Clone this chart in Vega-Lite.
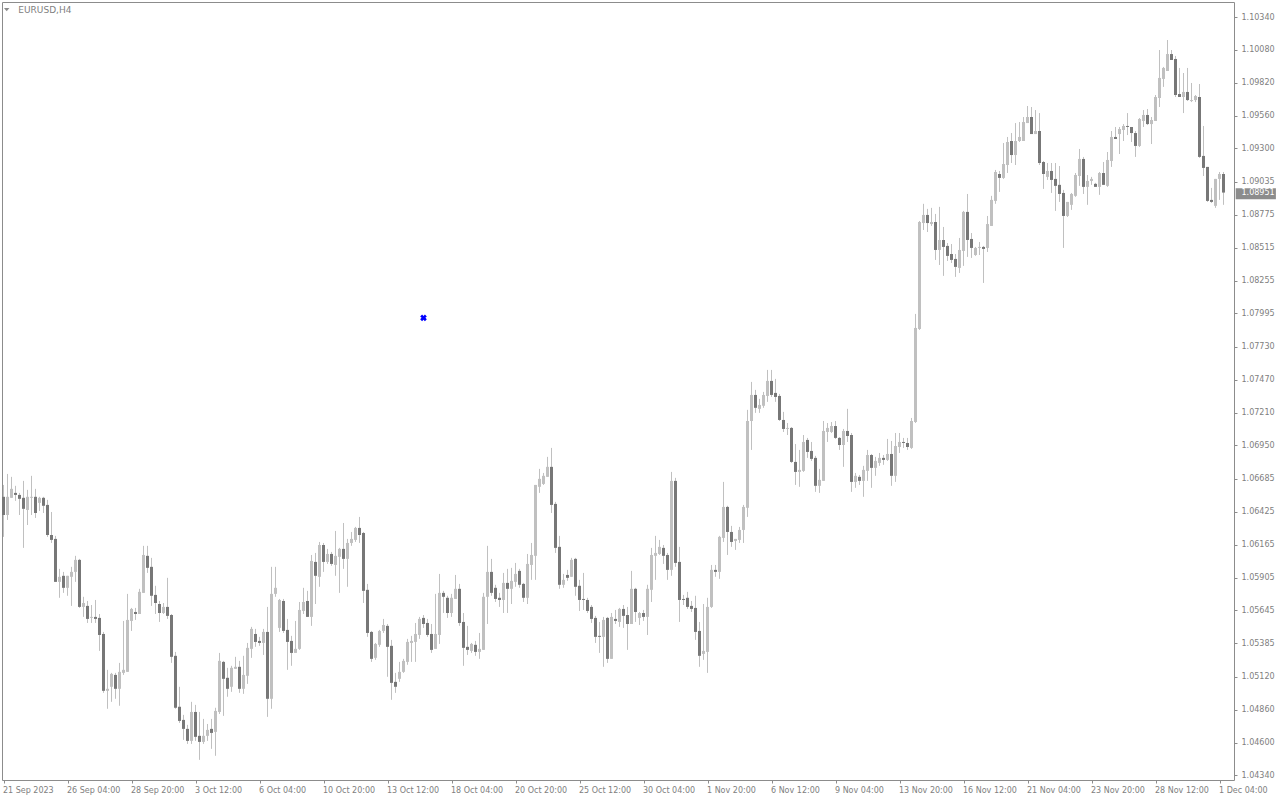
{
"$schema":"https://vega.github.io/schema/vega-lite/v6.json",
"width":1232,"height":778,
"autosize":{"type":"none"},
"padding":{"left":2,"top":2,"right":46,"bottom":20},
"background":"white",
"config":{"view":{"stroke":"#8c8c8c","strokeWidth":1},"font":"DejaVu Sans","axis":{"labelOverlap":false,"labelFlush":false,"labelBound":false},"scale":{"continuousPadding":0}},
"datasets":{"candles":[
{"i":0,"o":1.06544,"h":1.06638,"l":1.06227,"c":1.06400},
{"i":1,"o":1.06400,"h":1.06725,"l":1.06361,"c":1.06544},
{"i":2,"o":1.06536,"h":1.06702,"l":1.06536,"c":1.06607},
{"i":3,"o":1.06575,"h":1.06631,"l":1.06512,"c":1.06559},
{"i":4,"o":1.06559,"h":1.06575,"l":1.06400,"c":1.06528},
{"i":5,"o":1.06536,"h":1.06670,"l":1.06140,"c":1.06449},
{"i":6,"o":1.06440,"h":1.06599,"l":1.06321,"c":1.06544},
{"i":7,"o":1.06536,"h":1.06710,"l":1.06400,"c":1.06544},
{"i":8,"o":1.06544,"h":1.06607,"l":1.06377,"c":1.06416},
{"i":9,"o":1.06496,"h":1.06544,"l":1.06432,"c":1.06536},
{"i":10,"o":1.06536,"h":1.06544,"l":1.06416,"c":1.06473},
{"i":11,"o":1.06480,"h":1.06520,"l":1.06227,"c":1.06242},
{"i":12,"o":1.06242,"h":1.06424,"l":1.06179,"c":1.06203},
{"i":13,"o":1.06211,"h":1.06235,"l":1.05871,"c":1.05871},
{"i":14,"o":1.05871,"h":1.05974,"l":1.05745,"c":1.05911},
{"i":15,"o":1.05919,"h":1.05950,"l":1.05784,"c":1.05824},
{"i":16,"o":1.05824,"h":1.05919,"l":1.05761,"c":1.05919},
{"i":17,"o":1.05911,"h":1.05990,"l":1.05681,"c":1.05950},
{"i":18,"o":1.05950,"h":1.06077,"l":1.05871,"c":1.06045},
{"i":19,"o":1.06045,"h":1.06053,"l":1.05665,"c":1.05673},
{"i":20,"o":1.05673,"h":1.05753,"l":1.05594,"c":1.05704},
{"i":21,"o":1.05681,"h":1.05720,"l":1.05546,"c":1.05578},
{"i":22,"o":1.05586,"h":1.05688,"l":1.05546,"c":1.05594},
{"i":23,"o":1.05594,"h":1.05728,"l":1.05546,"c":1.05578},
{"i":24,"o":1.05586,"h":1.05617,"l":1.05325,"c":1.05451},
{"i":25,"o":1.05459,"h":1.05475,"l":1.04993,"c":1.05009},
{"i":26,"o":1.05009,"h":1.05175,"l":1.04867,"c":1.05025},
{"i":27,"o":1.05041,"h":1.05151,"l":1.04922,"c":1.05143},
{"i":28,"o":1.05135,"h":1.05151,"l":1.04946,"c":1.05025},
{"i":29,"o":1.05025,"h":1.05230,"l":1.04891,"c":1.05159},
{"i":30,"o":1.05151,"h":1.05562,"l":1.05135,"c":1.05175},
{"i":31,"o":1.05159,"h":1.05776,"l":1.05159,"c":1.05570},
{"i":32,"o":1.05562,"h":1.05665,"l":1.05483,"c":1.05657},
{"i":33,"o":1.05633,"h":1.05665,"l":1.05570,"c":1.05617},
{"i":34,"o":1.05617,"h":1.05816,"l":1.05617,"c":1.05792},
{"i":35,"o":1.05784,"h":1.06156,"l":1.05784,"c":1.06084},
{"i":36,"o":1.06077,"h":1.06156,"l":1.05942,"c":1.05982},
{"i":37,"o":1.05990,"h":1.06061,"l":1.05681,"c":1.05761},
{"i":38,"o":1.05768,"h":1.05840,"l":1.05617,"c":1.05704},
{"i":39,"o":1.05696,"h":1.05720,"l":1.05554,"c":1.05625},
{"i":40,"o":1.05625,"h":1.05704,"l":1.05617,"c":1.05673},
{"i":41,"o":1.05673,"h":1.05903,"l":1.05578,"c":1.05602},
{"i":42,"o":1.05609,"h":1.05617,"l":1.05230,"c":1.05278},
{"i":43,"o":1.05286,"h":1.05317,"l":1.04867,"c":1.04875},
{"i":44,"o":1.04883,"h":1.05041,"l":1.04755,"c":1.04771},
{"i":45,"o":1.04779,"h":1.04819,"l":1.04621,"c":1.04708},
{"i":46,"o":1.04708,"h":1.04740,"l":1.04589,"c":1.04613},
{"i":47,"o":1.04613,"h":1.04922,"l":1.04589,"c":1.04842},
{"i":48,"o":1.04842,"h":1.04898,"l":1.04613,"c":1.04645},
{"i":49,"o":1.04653,"h":1.04842,"l":1.04463,"c":1.04605},
{"i":50,"o":1.04605,"h":1.04787,"l":1.04589,"c":1.04653},
{"i":51,"o":1.04653,"h":1.04747,"l":1.04613,"c":1.04700},
{"i":52,"o":1.04708,"h":1.04787,"l":1.04550,"c":1.04676},
{"i":53,"o":1.04684,"h":1.04875,"l":1.04495,"c":1.04850},
{"i":54,"o":1.04842,"h":1.05309,"l":1.04826,"c":1.05246},
{"i":55,"o":1.05238,"h":1.05246,"l":1.04811,"c":1.05104},
{"i":56,"o":1.05112,"h":1.05191,"l":1.04962,"c":1.05025},
{"i":57,"o":1.05041,"h":1.05207,"l":1.05001,"c":1.05191},
{"i":58,"o":1.05183,"h":1.05278,"l":1.05183,"c":1.05199},
{"i":59,"o":1.05199,"h":1.05246,"l":1.04993,"c":1.05025},
{"i":60,"o":1.05025,"h":1.05286,"l":1.04985,"c":1.05135},
{"i":61,"o":1.05128,"h":1.05388,"l":1.05064,"c":1.05349},
{"i":62,"o":1.05341,"h":1.05515,"l":1.05270,"c":1.05499},
{"i":63,"o":1.05459,"h":1.05499,"l":1.05357,"c":1.05396},
{"i":64,"o":1.05404,"h":1.05436,"l":1.05365,"c":1.05388},
{"i":65,"o":1.05388,"h":1.05499,"l":1.05293,"c":1.05475},
{"i":66,"o":1.05475,"h":1.05673,"l":1.04803,"c":1.04946},
{"i":67,"o":1.04946,"h":1.05990,"l":1.04867,"c":1.05776},
{"i":68,"o":1.05776,"h":1.05990,"l":1.05753,"c":1.05824},
{"i":69,"o":1.05507,"h":1.05736,"l":1.05475,"c":1.05728},
{"i":70,"o":1.05720,"h":1.05736,"l":1.05467,"c":1.05483},
{"i":71,"o":1.05491,"h":1.05578,"l":1.05175,"c":1.05396},
{"i":72,"o":1.05404,"h":1.05444,"l":1.05207,"c":1.05309},
{"i":73,"o":1.05309,"h":1.05562,"l":1.05309,"c":1.05341},
{"i":74,"o":1.05341,"h":1.05712,"l":1.05333,"c":1.05649},
{"i":75,"o":1.05641,"h":1.05824,"l":1.05617,"c":1.05712},
{"i":76,"o":1.05720,"h":1.05800,"l":1.05594,"c":1.05594},
{"i":77,"o":1.05594,"h":1.06084,"l":1.05523,"c":1.06037},
{"i":78,"o":1.06029,"h":1.06100,"l":1.05696,"c":1.05919},
{"i":79,"o":1.05911,"h":1.06187,"l":1.05832,"c":1.06163},
{"i":80,"o":1.06163,"h":1.06179,"l":1.05950,"c":1.06029},
{"i":81,"o":1.06029,"h":1.06132,"l":1.06013,"c":1.06092},
{"i":82,"o":1.06092,"h":1.06108,"l":1.05998,"c":1.06013},
{"i":83,"o":1.06005,"h":1.06274,"l":1.05919,"c":1.06077},
{"i":84,"o":1.06069,"h":1.06140,"l":1.05784,"c":1.06132},
{"i":85,"o":1.06132,"h":1.06337,"l":1.05974,"c":1.06053},
{"i":86,"o":1.06053,"h":1.06211,"l":1.05832,"c":1.06179},
{"i":87,"o":1.06179,"h":1.06266,"l":1.06156,"c":1.06211},
{"i":88,"o":1.06203,"h":1.06306,"l":1.06187,"c":1.06298},
{"i":89,"o":1.06298,"h":1.06385,"l":1.06179,"c":1.06242},
{"i":90,"o":1.06258,"h":1.06266,"l":1.05704,"c":1.05800},
{"i":91,"o":1.05808,"h":1.05855,"l":1.05436,"c":1.05467},
{"i":92,"o":1.05475,"h":1.05483,"l":1.05238,"c":1.05262},
{"i":93,"o":1.05270,"h":1.05388,"l":1.05254,"c":1.05380},
{"i":94,"o":1.05373,"h":1.05491,"l":1.05357,"c":1.05483},
{"i":95,"o":1.05483,"h":1.05578,"l":1.05467,"c":1.05530},
{"i":96,"o":1.05523,"h":1.05538,"l":1.05120,"c":1.05357},
{"i":97,"o":1.05365,"h":1.05412,"l":1.04938,"c":1.05072},
{"i":98,"o":1.05080,"h":1.05151,"l":1.04993,"c":1.05041},
{"i":99,"o":1.05104,"h":1.05238,"l":1.05080,"c":1.05159},
{"i":100,"o":1.05159,"h":1.05262,"l":1.05151,"c":1.05246},
{"i":101,"o":1.05238,"h":1.05420,"l":1.05215,"c":1.05396},
{"i":102,"o":1.05388,"h":1.05444,"l":1.05238,"c":1.05404},
{"i":103,"o":1.05396,"h":1.05546,"l":1.05238,"c":1.05459},
{"i":104,"o":1.05451,"h":1.05594,"l":1.05420,"c":1.05578},
{"i":105,"o":1.05586,"h":1.05609,"l":1.05507,"c":1.05538},
{"i":106,"o":1.05546,"h":1.05578,"l":1.05436,"c":1.05451},
{"i":107,"o":1.05459,"h":1.05538,"l":1.05309,"c":1.05333},
{"i":108,"o":1.05341,"h":1.05776,"l":1.05341,"c":1.05459},
{"i":109,"o":1.05451,"h":1.05934,"l":1.05380,"c":1.05784},
{"i":110,"o":1.05784,"h":1.05800,"l":1.05625,"c":1.05753},
{"i":111,"o":1.05745,"h":1.05761,"l":1.05586,"c":1.05625},
{"i":112,"o":1.05625,"h":1.05776,"l":1.05594,"c":1.05745},
{"i":113,"o":1.05736,"h":1.05926,"l":1.05736,"c":1.05816},
{"i":114,"o":1.05816,"h":1.05855,"l":1.05523,"c":1.05546},
{"i":115,"o":1.05554,"h":1.05625,"l":1.05207,"c":1.05349},
{"i":116,"o":1.05357,"h":1.05523,"l":1.05293,"c":1.05333},
{"i":117,"o":1.05325,"h":1.05388,"l":1.05309,"c":1.05380},
{"i":118,"o":1.05373,"h":1.05404,"l":1.05286,"c":1.05317},
{"i":119,"o":1.05317,"h":1.05467,"l":1.05262,"c":1.05341},
{"i":120,"o":1.05333,"h":1.05784,"l":1.05333,"c":1.05753},
{"i":121,"o":1.05753,"h":1.06156,"l":1.05538,"c":1.05950},
{"i":122,"o":1.05950,"h":1.06053,"l":1.05761,"c":1.05784},
{"i":123,"o":1.05824,"h":1.05848,"l":1.05712,"c":1.05736},
{"i":124,"o":1.05745,"h":1.05784,"l":1.05673,"c":1.05728},
{"i":125,"o":1.05728,"h":1.05942,"l":1.05625,"c":1.05863},
{"i":126,"o":1.05863,"h":1.05974,"l":1.05625,"c":1.05816},
{"i":127,"o":1.05816,"h":1.05982,"l":1.05696,"c":1.05879},
{"i":128,"o":1.05871,"h":1.06021,"l":1.05832,"c":1.05934},
{"i":129,"o":1.05958,"h":1.05974,"l":1.05824,"c":1.05848},
{"i":130,"o":1.05855,"h":1.05863,"l":1.05712,"c":1.05745},
{"i":131,"o":1.05745,"h":1.06092,"l":1.05696,"c":1.06013},
{"i":132,"o":1.06005,"h":1.06179,"l":1.05887,"c":1.06084},
{"i":133,"o":1.06077,"h":1.06638,"l":1.05887,"c":1.06638},
{"i":134,"o":1.06623,"h":1.06765,"l":1.06575,"c":1.06686},
{"i":135,"o":1.06646,"h":1.06733,"l":1.06638,"c":1.06710},
{"i":136,"o":1.06702,"h":1.06860,"l":1.06702,"c":1.06781},
{"i":137,"o":1.06781,"h":1.06931,"l":1.06416,"c":1.06480},
{"i":138,"o":1.06488,"h":1.06504,"l":1.06100,"c":1.06140},
{"i":139,"o":1.06148,"h":1.06235,"l":1.05816,"c":1.05848},
{"i":140,"o":1.05848,"h":1.05934,"l":1.05824,"c":1.05887},
{"i":141,"o":1.05926,"h":1.05966,"l":1.05879,"c":1.05903},
{"i":142,"o":1.05911,"h":1.06061,"l":1.05911,"c":1.06045},
{"i":143,"o":1.06053,"h":1.06061,"l":1.05761,"c":1.05832},
{"i":144,"o":1.05840,"h":1.05887,"l":1.05641,"c":1.05728},
{"i":145,"o":1.05736,"h":1.05942,"l":1.05649,"c":1.05728},
{"i":146,"o":1.05728,"h":1.05745,"l":1.05625,"c":1.05641},
{"i":147,"o":1.05673,"h":1.05688,"l":1.05546,"c":1.05578},
{"i":148,"o":1.05586,"h":1.05602,"l":1.05388,"c":1.05436},
{"i":149,"o":1.05444,"h":1.05554,"l":1.05309,"c":1.05436},
{"i":150,"o":1.05436,"h":1.05594,"l":1.05199,"c":1.05570},
{"i":151,"o":1.05586,"h":1.05594,"l":1.05230,"c":1.05262},
{"i":152,"o":1.05262,"h":1.05625,"l":1.05262,"c":1.05594},
{"i":153,"o":1.05578,"h":1.05649,"l":1.05538,"c":1.05562},
{"i":154,"o":1.05554,"h":1.05665,"l":1.05515,"c":1.05657},
{"i":155,"o":1.05657,"h":1.05688,"l":1.05507,"c":1.05602},
{"i":156,"o":1.05609,"h":1.05673,"l":1.05333,"c":1.05538},
{"i":157,"o":1.05538,"h":1.05958,"l":1.05538,"c":1.05816},
{"i":158,"o":1.05816,"h":1.05824,"l":1.05554,"c":1.05633},
{"i":159,"o":1.05586,"h":1.05633,"l":1.05530,"c":1.05625},
{"i":160,"o":1.05625,"h":1.05649,"l":1.05562,"c":1.05594},
{"i":161,"o":1.05594,"h":1.05848,"l":1.05451,"c":1.05816},
{"i":162,"o":1.05808,"h":1.06140,"l":1.05712,"c":1.06084},
{"i":163,"o":1.06077,"h":1.06235,"l":1.05887,"c":1.06100},
{"i":164,"o":1.06092,"h":1.06203,"l":1.06084,"c":1.06148},
{"i":165,"o":1.06140,"h":1.06163,"l":1.06013,"c":1.06077},
{"i":166,"o":1.06084,"h":1.06100,"l":1.05887,"c":1.05966},
{"i":167,"o":1.05966,"h":1.06741,"l":1.05919,"c":1.06670},
{"i":168,"o":1.06670,"h":1.06694,"l":1.05990,"c":1.06021},
{"i":169,"o":1.06029,"h":1.06148,"l":1.05554,"c":1.05728},
{"i":170,"o":1.05736,"h":1.05768,"l":1.05688,"c":1.05728},
{"i":171,"o":1.05745,"h":1.05792,"l":1.05657,"c":1.05673},
{"i":172,"o":1.05681,"h":1.05720,"l":1.05633,"c":1.05657},
{"i":173,"o":1.05665,"h":1.05761,"l":1.05412,"c":1.05475},
{"i":174,"o":1.05483,"h":1.05554,"l":1.05199,"c":1.05286},
{"i":175,"o":1.05301,"h":1.05696,"l":1.05254,"c":1.05325},
{"i":176,"o":1.05317,"h":1.05745,"l":1.05151,"c":1.05673},
{"i":177,"o":1.05673,"h":1.06005,"l":1.05665,"c":1.05966},
{"i":178,"o":1.05966,"h":1.06005,"l":1.05911,"c":1.05950},
{"i":179,"o":1.05950,"h":1.06235,"l":1.05895,"c":1.06227},
{"i":180,"o":1.06219,"h":1.06662,"l":1.06187,"c":1.06464},
{"i":181,"o":1.06464,"h":1.06473,"l":1.06084,"c":1.06266},
{"i":182,"o":1.06266,"h":1.06314,"l":1.06148,"c":1.06187},
{"i":183,"o":1.06195,"h":1.06211,"l":1.06124,"c":1.06211},
{"i":184,"o":1.06203,"h":1.06306,"l":1.06179,"c":1.06282},
{"i":185,"o":1.06282,"h":1.06480,"l":1.06179,"c":1.06464},
{"i":186,"o":1.06457,"h":1.07232,"l":1.06385,"c":1.07144},
{"i":187,"o":1.07144,"h":1.07453,"l":1.06915,"c":1.07350},
{"i":188,"o":1.07350,"h":1.07390,"l":1.07208,"c":1.07248},
{"i":189,"o":1.07240,"h":1.07319,"l":1.07208,"c":1.07271},
{"i":190,"o":1.07264,"h":1.07374,"l":1.07248,"c":1.07350},
{"i":191,"o":1.07342,"h":1.07548,"l":1.07295,"c":1.07461},
{"i":192,"o":1.07461,"h":1.07548,"l":1.07334,"c":1.07350},
{"i":193,"o":1.07366,"h":1.07477,"l":1.07295,"c":1.07334},
{"i":194,"o":1.07342,"h":1.07358,"l":1.07144,"c":1.07152},
{"i":195,"o":1.07152,"h":1.07216,"l":1.07057,"c":1.07081},
{"i":196,"o":1.07081,"h":1.07128,"l":1.07033,"c":1.07089},
{"i":197,"o":1.07089,"h":1.07096,"l":1.06812,"c":1.06820},
{"i":198,"o":1.06820,"h":1.06962,"l":1.06638,"c":1.06741},
{"i":199,"o":1.06741,"h":1.06915,"l":1.06623,"c":1.06757},
{"i":200,"o":1.06749,"h":1.07033,"l":1.06741,"c":1.06978},
{"i":201,"o":1.06994,"h":1.07010,"l":1.06852,"c":1.06899},
{"i":202,"o":1.06907,"h":1.06978,"l":1.06828,"c":1.06844},
{"i":203,"o":1.06852,"h":1.06868,"l":1.06583,"c":1.06631},
{"i":204,"o":1.06631,"h":1.06765,"l":1.06575,"c":1.06678},
{"i":205,"o":1.06670,"h":1.07144,"l":1.06670,"c":1.07065},
{"i":206,"o":1.07057,"h":1.07128,"l":1.06978,"c":1.07089},
{"i":207,"o":1.07057,"h":1.07136,"l":1.07049,"c":1.07104},
{"i":208,"o":1.07104,"h":1.07144,"l":1.07002,"c":1.07010},
{"i":209,"o":1.07010,"h":1.07017,"l":1.06915,"c":1.06954},
{"i":210,"o":1.06954,"h":1.07081,"l":1.06781,"c":1.07065},
{"i":211,"o":1.07065,"h":1.07240,"l":1.06978,"c":1.07025},
{"i":212,"o":1.07033,"h":1.07049,"l":1.06583,"c":1.06662},
{"i":213,"o":1.06662,"h":1.06733,"l":1.06615,"c":1.06710},
{"i":214,"o":1.06702,"h":1.06717,"l":1.06638,"c":1.06670},
{"i":215,"o":1.06670,"h":1.06789,"l":1.06544,"c":1.06757},
{"i":216,"o":1.06749,"h":1.06915,"l":1.06670,"c":1.06875},
{"i":217,"o":1.06875,"h":1.06883,"l":1.06615,"c":1.06773},
{"i":218,"o":1.06773,"h":1.06860,"l":1.06710,"c":1.06828},
{"i":219,"o":1.06812,"h":1.06891,"l":1.06789,"c":1.06852},
{"i":220,"o":1.06852,"h":1.06875,"l":1.06797,"c":1.06836},
{"i":221,"o":1.06836,"h":1.07002,"l":1.06828,"c":1.06883},
{"i":222,"o":1.06883,"h":1.06986,"l":1.06631,"c":1.06710},
{"i":223,"o":1.06710,"h":1.07049,"l":1.06662,"c":1.06946},
{"i":224,"o":1.06938,"h":1.07049,"l":1.06891,"c":1.06978},
{"i":225,"o":1.06978,"h":1.07010,"l":1.06931,"c":1.06970},
{"i":226,"o":1.06970,"h":1.07010,"l":1.06915,"c":1.06938},
{"i":227,"o":1.06931,"h":1.07168,"l":1.06923,"c":1.07144},
{"i":228,"o":1.07136,"h":1.07991,"l":1.07128,"c":1.07880},
{"i":229,"o":1.07872,"h":1.08726,"l":1.07864,"c":1.08718},
{"i":230,"o":1.08710,"h":1.08862,"l":1.08655,"c":1.08774},
{"i":231,"o":1.08774,"h":1.08822,"l":1.08639,"c":1.08710},
{"i":232,"o":1.08702,"h":1.08830,"l":1.08687,"c":1.08718},
{"i":233,"o":1.08718,"h":1.08782,"l":1.08418,"c":1.08497},
{"i":234,"o":1.08497,"h":1.08838,"l":1.08378,"c":1.08576},
{"i":235,"o":1.08576,"h":1.08679,"l":1.08292,"c":1.08521},
{"i":236,"o":1.08529,"h":1.08552,"l":1.08410,"c":1.08450},
{"i":237,"o":1.08465,"h":1.08544,"l":1.08394,"c":1.08418},
{"i":238,"o":1.08426,"h":1.08465,"l":1.08284,"c":1.08363},
{"i":239,"o":1.08355,"h":1.08592,"l":1.08315,"c":1.08497},
{"i":240,"o":1.08489,"h":1.08806,"l":1.08371,"c":1.08798},
{"i":241,"o":1.08798,"h":1.08940,"l":1.08442,"c":1.08576},
{"i":242,"o":1.08584,"h":1.08631,"l":1.08434,"c":1.08513},
{"i":243,"o":1.08457,"h":1.08521,"l":1.08450,"c":1.08513},
{"i":244,"o":1.08513,"h":1.08560,"l":1.08457,"c":1.08521},
{"i":245,"o":1.08521,"h":1.08529,"l":1.08236,"c":1.08505},
{"i":246,"o":1.08513,"h":1.08766,"l":1.08481,"c":1.08702},
{"i":247,"o":1.08687,"h":1.08925,"l":1.08687,"c":1.08893},
{"i":248,"o":1.08885,"h":1.09130,"l":1.08862,"c":1.09114},
{"i":249,"o":1.09098,"h":1.09122,"l":1.08956,"c":1.09067},
{"i":250,"o":1.09067,"h":1.09343,"l":1.09059,"c":1.09177},
{"i":251,"o":1.09169,"h":1.09391,"l":1.09106,"c":1.09351},
{"i":252,"o":1.09359,"h":1.09422,"l":1.09185,"c":1.09248},
{"i":253,"o":1.09248,"h":1.09501,"l":1.09169,"c":1.09359},
{"i":254,"o":1.09359,"h":1.09509,"l":1.09351,"c":1.09391},
{"i":255,"o":1.09359,"h":1.09549,"l":1.09359,"c":1.09509},
{"i":256,"o":1.09501,"h":1.09636,"l":1.09501,"c":1.09549},
{"i":257,"o":1.09549,"h":1.09628,"l":1.09414,"c":1.09414},
{"i":258,"o":1.09414,"h":1.09604,"l":1.09414,"c":1.09438},
{"i":259,"o":1.09438,"h":1.09580,"l":1.09169,"c":1.09185},
{"i":260,"o":1.09193,"h":1.09201,"l":1.08980,"c":1.09098},
{"i":261,"o":1.09075,"h":1.09185,"l":1.09051,"c":1.09122},
{"i":262,"o":1.09122,"h":1.09185,"l":1.08948,"c":1.09051},
{"i":263,"o":1.09059,"h":1.09185,"l":1.08806,"c":1.09004},
{"i":264,"o":1.09012,"h":1.09161,"l":1.08877,"c":1.08940},
{"i":265,"o":1.08948,"h":1.08972,"l":1.08513,"c":1.08766},
{"i":266,"o":1.08766,"h":1.08877,"l":1.08758,"c":1.08877},
{"i":267,"o":1.08854,"h":1.08948,"l":1.08814,"c":1.08940},
{"i":268,"o":1.08925,"h":1.09106,"l":1.08917,"c":1.09090},
{"i":269,"o":1.09082,"h":1.09296,"l":1.09004,"c":1.09217},
{"i":270,"o":1.09217,"h":1.09233,"l":1.08940,"c":1.08996},
{"i":271,"o":1.08996,"h":1.09090,"l":1.08854,"c":1.09043},
{"i":272,"o":1.09043,"h":1.09075,"l":1.09012,"c":1.09059},
{"i":273,"o":1.09020,"h":1.09028,"l":1.08996,"c":1.08996},
{"i":274,"o":1.08996,"h":1.09114,"l":1.08933,"c":1.09106},
{"i":275,"o":1.09106,"h":1.09193,"l":1.09012,"c":1.09012},
{"i":276,"o":1.09004,"h":1.09272,"l":1.08996,"c":1.09209},
{"i":277,"o":1.09201,"h":1.09438,"l":1.09154,"c":1.09391},
{"i":278,"o":1.09391,"h":1.09470,"l":1.09375,"c":1.09375},
{"i":279,"o":1.09414,"h":1.09470,"l":1.09256,"c":1.09454},
{"i":280,"o":1.09446,"h":1.09493,"l":1.09359,"c":1.09478},
{"i":281,"o":1.09478,"h":1.09580,"l":1.09406,"c":1.09470},
{"i":282,"o":1.09470,"h":1.09470,"l":1.09351,"c":1.09422},
{"i":283,"o":1.09422,"h":1.09438,"l":1.09233,"c":1.09320},
{"i":284,"o":1.09320,"h":1.09541,"l":1.09312,"c":1.09533},
{"i":285,"o":1.09517,"h":1.09604,"l":1.09470,"c":1.09565},
{"i":286,"o":1.09565,"h":1.09612,"l":1.09485,"c":1.09493},
{"i":287,"o":1.09493,"h":1.09549,"l":1.09335,"c":1.09525},
{"i":288,"o":1.09517,"h":1.09723,"l":1.09517,"c":1.09707},
{"i":289,"o":1.09699,"h":1.10079,"l":1.09628,"c":1.09858},
{"i":290,"o":1.09850,"h":1.09945,"l":1.09787,"c":1.09937},
{"i":291,"o":1.09913,"h":1.10158,"l":1.09913,"c":1.10047},
{"i":292,"o":1.10047,"h":1.10079,"l":1.10000,"c":1.10000},
{"i":293,"o":1.10008,"h":1.10032,"l":1.09707,"c":1.09723},
{"i":294,"o":1.09731,"h":1.09937,"l":1.09707,"c":1.09707},
{"i":295,"o":1.09707,"h":1.09897,"l":1.09580,"c":1.09747},
{"i":296,"o":1.09747,"h":1.09937,"l":1.09675,"c":1.09683},
{"i":297,"o":1.09675,"h":1.09818,"l":1.09667,"c":1.09683},
{"i":298,"o":1.09683,"h":1.09723,"l":1.09667,"c":1.09715},
{"i":299,"o":1.09707,"h":1.09810,"l":1.09225,"c":1.09233},
{"i":300,"o":1.09241,"h":1.09478,"l":1.09082,"c":1.09146},
{"i":301,"o":1.09154,"h":1.09154,"l":1.08877,"c":1.08885},
{"i":302,"o":1.08893,"h":1.08988,"l":1.08869,"c":1.08877},
{"i":303,"o":1.08846,"h":1.09059,"l":1.08830,"c":1.09059},
{"i":304,"o":1.09059,"h":1.09114,"l":1.08893,"c":1.09098},
{"i":305,"o":1.09098,"h":1.09114,"l":1.08854,"c":1.08951}
]},
"layer":[
{"data":{"name":"candles"},
 "mark":{"type":"rule","color":"#c0c0c0","strokeWidth":1},
 "encoding":{
  "x":{"field":"i","type":"quantitative","scale":{"domain":[-0.375,307.625],"nice":false,"zero":false,"padding":0},
   "axis":{"title":null,"tickCount":60,"values":[0,16,32,48,64,80,96,112,128,144,160,176,192,208,224,240,256,272,288,304],
    "labelExpr":"['21 Sep 2023','26 Sep 04:00','28 Sep 20:00','3 Oct 12:00','6 Oct 04:00','10 Oct 20:00','13 Oct 12:00','18 Oct 04:00','20 Oct 20:00','25 Oct 12:00','30 Oct 04:00','1 Nov 20:00','6 Nov 12:00','9 Nov 04:00','13 Nov 20:00','16 Nov 12:00','21 Nov 04:00','23 Nov 20:00','28 Nov 12:00','1 Dec 04:00'][round(datum.value/16)]",
    "labelAlign":"left","labelBaseline":"top","labelPadding":3,"labelOffset":-1,"tickSize":3,"tickColor":"#8c8c8c","domain":false,"grid":false,
    "labelColor":"#808080","labelFont":"DejaVu Sans","labelFontSize":8,"labelOverlap":false,"labelFlush":false,"labelBound":false}},
  "y":{"field":"h","type":"quantitative","scale":{"domain":[1.043036,1.104587],"nice":false,"zero":false,"padding":0},
   "axis":{"title":null,"orient":"right","tickCount":60,"values":[1.1034,1.1008,1.0982,1.0956,1.093,1.09035,1.08775,1.08515,1.08255,1.07995,1.0773,1.0747,1.0721,1.0695,1.06685,1.06425,1.06165,1.05905,1.05645,1.05385,1.0512,1.0486,1.046,1.0434],
    "labelExpr":"format(datum.value, '.5f')","labelAlign":"left","labelBaseline":"middle","labelPadding":4,"tickSize":3,"tickColor":"#8c8c8c","domain":false,"grid":false,
    "labelColor":"#808080","labelFont":"DejaVu Sans","labelFontSize":8,"labelOverlap":false,"labelFlush":false,"labelBound":false}},
  "y2":{"field":"l"}}},
{"data":{"name":"candles"},
 "mark":{"type":"bar","size":3},
 "encoding":{
  "x":{"field":"i","type":"quantitative","axis":{"title":null}},
  "y":{"field":"o","type":"quantitative","axis":{"title":null}},
  "y2":{"field":"c"},
  "color":{"condition":{"test":"datum.c >= datum.o","value":"#c0c0c0"},"value":"#777777"}}},
{"mark":{"type":"rule","color":"#d0d0d0","strokeWidth":1},
 "encoding":{"y":{"datum":1.08951,"type":"quantitative","axis":{"title":null}}}},
{"data":{"values":[{"i":105,"p":1.0796}]},
 "mark":{"type":"point","shape":"cross","angle":45,"filled":true,"color":"#0000ff","size":45,"opacity":1},
 "encoding":{"x":{"field":"i","type":"quantitative","axis":{"title":null}},"y":{"field":"p","type":"quantitative","axis":{"title":null}}}},
{"data":{"values":[{"i":0.8,"p":1.103986}]},
 "mark":{"type":"point","shape":"M-1,-0.55L1,-0.55L0,0.6Z","filled":true,"color":"#8c8c8c","size":30,"opacity":1,"strokeWidth":0},
 "encoding":{"x":{"field":"i","type":"quantitative","axis":{"title":null}},"y":{"field":"p","type":"quantitative","axis":{"title":null}}}},
{"data":{"values":[{"i":3.7,"p":1.103693,"label":"EURUSD,H4"}]},
 "mark":{"type":"text","align":"left","baseline":"alphabetic","color":"#808080","font":"DejaVu Sans","fontSize":9},
 "encoding":{"x":{"field":"i","type":"quantitative","axis":{"title":null}},"y":{"field":"p","type":"quantitative","axis":{"title":null}},"text":{"field":"label"}}},
{"data":{"values":[{"p":1.08945,"top":1.08986,"bot":1.08899,"x0":308.05,"x1":318.1,"xt":309.5,"label":"1.08951"}]},
 "layer":[
  {"mark":{"type":"rect","color":"#8c8c8c","clip":false},
   "encoding":{"x":{"field":"x0","type":"quantitative","axis":{"title":null}},"x2":{"field":"x1"},"y":{"field":"top","type":"quantitative","axis":{"title":null}},"y2":{"field":"bot"}}},
  {"mark":{"type":"text","align":"left","baseline":"middle","color":"white","font":"DejaVu Sans","fontSize":8,"clip":false},
   "encoding":{"x":{"field":"xt","type":"quantitative","axis":{"title":null}},"y":{"field":"p","type":"quantitative","axis":{"title":null}},"text":{"field":"label"}}}
 ]}
]
}
